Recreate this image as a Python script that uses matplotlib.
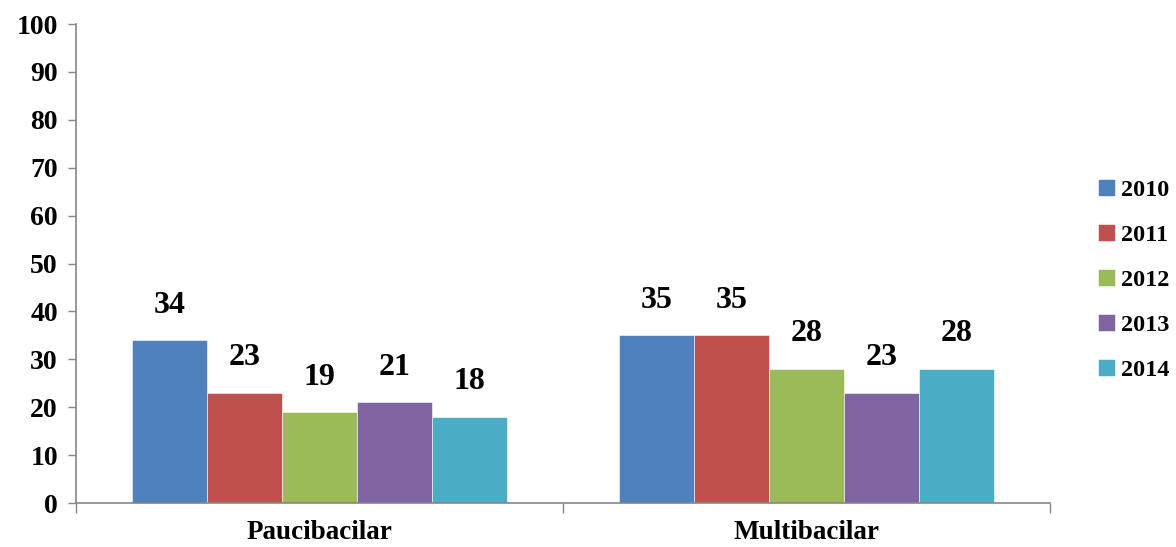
import matplotlib
matplotlib.use('Agg')
import matplotlib.pyplot as plt
import numpy as np

# forms of leprosy, % of cases per year
CATEGORIES = ['Paucibacilar', 'Multibacilar']
YEARS = ['2010', '2011', '2012', '2013', '2014']
VALUES = {
    '2010': [34, 35],
    '2011': [23, 35],
    '2012': [19, 28],
    '2013': [21, 23],
    '2014': [18, 28],
}
COLORS = ['#4F81BD', '#C0504D', '#9BBB59', '#8064A2', '#4BACC6']

plt.rcParams['font.family'] = ['Liberation Serif', 'DejaVu Serif']
plt.rcParams['font.weight'] = 'bold'

fig = plt.figure(figsize=(11.76, 5.47), dpi=100)
ax = fig.add_axes([0.0646, 0.0804, 0.8284, 0.8756])

x = np.arange(len(CATEGORIES))
width = 0.154
n = len(YEARS)
for i, (yr, col) in enumerate(zip(YEARS, COLORS)):
    pos = x + (i - (n - 1) / 2) * width
    vals = VALUES[yr]
    ax.bar(pos, vals, width, color=col, edgecolor='white', linewidth=0.4, label=yr)
    for px, v in zip(pos, vals):
        ax.text(px, v + 7.3, '%d' % v, ha='center', va='center',
                fontsize=23, fontweight='bold')

ax.set_xlim(-0.5, 1.5)
ax.set_ylim(0, 100)
ax.set_yticks(range(0, 101, 10))
ax.set_xticks([-0.5, 0.5, 1.5])
ax.set_xticklabels([])
ax.set_xticks(x, minor=True)
ax.set_xticklabels(CATEGORIES, minor=True, fontsize=19.5, fontweight='bold')
ax.tick_params(axis='x', which='minor', length=0, pad=12)
ax.tick_params(axis='x', which='major', length=7, color='#868686', width=1)
ax.tick_params(axis='y', length=6, color='#868686', width=1, labelsize=20, pad=7)
for lab in ax.get_yticklabels():
    lab.set_fontweight('bold')

for s in ['top', 'right']:
    ax.spines[s].set_visible(False)
for s in ['left', 'bottom']:
    ax.spines[s].set_color('#868686')
    ax.spines[s].set_linewidth(1.2)

leg = fig.legend(loc='center left', bbox_to_anchor=(0.934, 0.488), frameon=False,
                 prop={'size': 17.5, 'weight': 'bold'}, handlelength=0.7,
                 handleheight=0.7, handletextpad=0.25, labelspacing=0.95,
                 borderpad=0, borderaxespad=0)

fig.savefig('out.png', dpi=100)
